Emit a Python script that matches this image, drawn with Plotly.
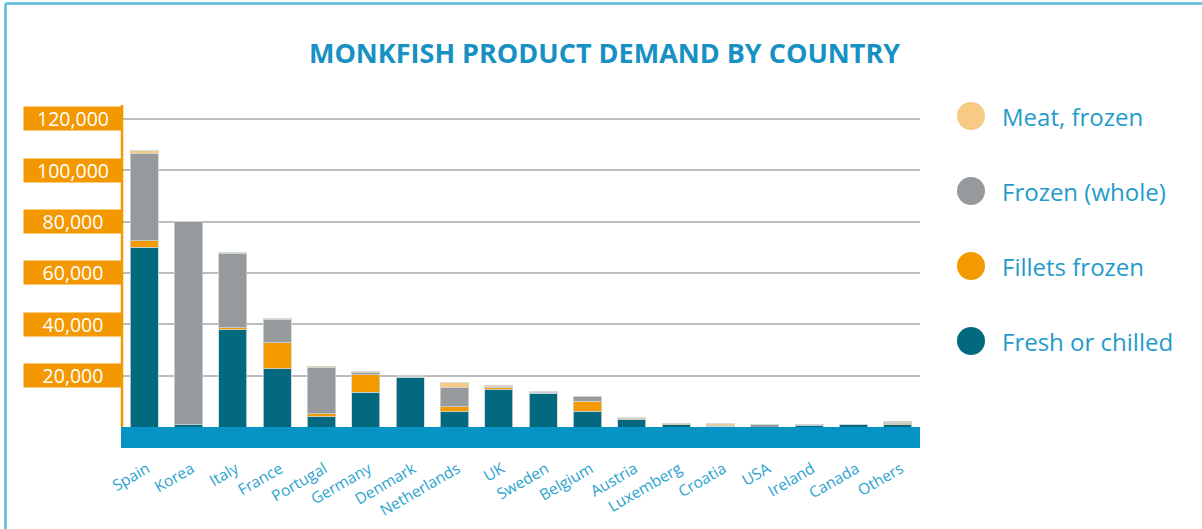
import plotly.graph_objects as go

countries = ["Spain", "Korea", "Italy", "France", "Portugal", "Germany", "Denmark",
             "Netherlands", "UK", "Sweden", "Belgium", "Austria", "Luxemberg",
             "Croatia", "USA", "Ireland", "Canada", "Others"]
fresh_chilled = [70000, 800, 37900, 22700, 4000, 13500, 19200, 6000, 14500, 13200,
                 6200, 2750, 900, 300, 0, 500, 800, 900]
fillets_frozen = [2500, 0, 700, 10100, 1200, 6900, 200, 1800, 900, 400,
                  3800, 450, 300, 0, 0, 0, 0, 300]
frozen_whole = [34000, 79400, 29000, 9000, 17800, 650, 400, 7500, 200, 0,
                1700, 0, 0, 400, 900, 400, 0, 400]
meat_frozen = [1000, 0, 300, 300, 650, 400, 100, 1850, 600, 100,
               260, 450, 350, 600, 0, 0, 0, 600]

series_names = ["Fresh or chilled", "Fillets frozen", "Frozen (whole)", "Meat, frozen"]
series_values = [fresh_chilled, fillets_frozen, frozen_whole, meat_frozen]
series_colors = ["#03697f", "#f39a00", "#979a9d", "#f7cb84"]

ytick_vals = [20000, 40000, 60000, 80000, 100000, 120000]
ytick_text = ["20,000", "40,000", "60,000", "80,000", "100,000", "120,000"]

title_text = "MONKFISH PRODUCT DEMAND BY COUNTRY"

# layout geometry (pixels)
W, H = 1202, 529
L, R, T, B = 122, 920, 106, 427
PW, PH = R - L, B - T


def px_x(px):
    return (px - L) / PW


def px_y(py):
    return (B - py) / PH


ORANGE = "#f39800"
BLUE_TXT = "#1f9bcb"

fig = go.Figure()
for name, vals, col in zip(series_names, series_values, series_colors):
    fig.add_trace(go.Bar(
        x=countries, y=vals, name=name,
        marker=dict(color=col, line=dict(color="rgba(205,212,215,0.8)", width=1)),
        showlegend=False,
    ))

shapes = []
annotations = []

# blue base band
shapes.append(dict(type="rect", xref="paper", yref="paper",
                   x0=px_x(121), x1=1, y0=px_y(448), y1=0,
                   fillcolor="#0793c3", line=dict(width=0), layer="above"))
# orange vertical axis line
shapes.append(dict(type="line", xref="paper", yref="paper",
                   x0=px_x(122), x1=px_x(122), y0=0, y1=px_y(105),
                   line=dict(color=ORANGE, width=2.5), layer="above"))
# outer frame lines (top and left)
shapes.append(dict(type="line", xref="paper", yref="paper",
                   x0=px_x(5.5), x1=px_x(1202), y0=px_y(3.5), y1=px_y(3.5),
                   line=dict(color="#5ab8d9", width=2.5)))
shapes.append(dict(type="line", xref="paper", yref="paper",
                   x0=px_x(5.5), x1=px_x(5.5), y0=px_y(3.5), y1=px_y(529),
                   line=dict(color="#5ab8d9", width=2.5)))

# y tick label boxes
for v, t in zip(ytick_vals, ytick_text):
    annotations.append(dict(
        x=px_x(123), y=v, xref="paper", yref="y", xanchor="right", yanchor="middle",
        text=t, showarrow=False, bgcolor=ORANGE, width=98, height=23, borderpad=0,
        align="center", valign="middle",
        font=dict(family="Open Sans", size=19.5, color="white", weight=400),
    ))

# legend
legend_items = list(zip(series_names, series_colors))[::-1]
for i, (name, col) in enumerate(legend_items):
    cy = 116 + 75 * i
    shapes.append(dict(type="circle", xref="paper", yref="paper",
                       x0=px_x(957), x1=px_x(985), y0=px_y(cy + 14), y1=px_y(cy - 14),
                       fillcolor=col, line=dict(width=0)))
    annotations.append(dict(
        x=px_x(1000), y=px_y(cy), xref="paper", yref="paper", xanchor="left",
        yanchor="middle", text=name, showarrow=False,
        font=dict(family="Open Sans", size=24, color=BLUE_TXT),
    ))

fig.update_layout(
    width=W, height=H,
    margin=dict(l=L, r=W - R, t=T, b=H - B, pad=0, autoexpand=False),
    paper_bgcolor="white", plot_bgcolor="white",
    barmode="stack", bargap=0.365,
    title=dict(text=title_text, xref="container", yref="container",
               x=604.5 / W, y=1 - 54 / H, xanchor="center", yanchor="middle",
               font=dict(family="Open Sans", size=27, color="#1791c3", weight=700)),
    xaxis=dict(tickangle=-30, ticks="outside", ticklen=26, tickcolor="rgba(0,0,0,0)",
               ticklabelshift=3,
               tickfont=dict(family="Open Sans", size=15.5, color="#2aa3d0"),
               automargin=False,
               showgrid=False, zeroline=False, showline=False, fixedrange=True),
    yaxis=dict(range=[0, 125000], dtick=20000, tick0=0, showticklabels=False,
               automargin=False,
               showgrid=True, gridcolor="#bcbcbc", gridwidth=1.5, zeroline=False,
               showline=False, fixedrange=True),
    shapes=shapes,
    annotations=annotations,
    showlegend=False,
)

fig.write_html("out.html")
